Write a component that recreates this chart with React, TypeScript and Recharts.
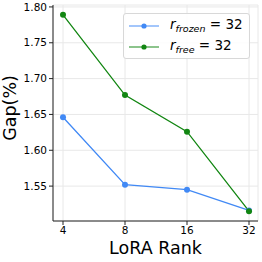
import { LineChart, Line, XAxis, YAxis, CartesianGrid } from 'recharts';

const ranks = ['4', '8', '16', '32'];
const frozenGap = [1.646, 1.552, 1.545, 1.516];
const freeGap = [1.789, 1.677, 1.626, 1.515];
const yTicks = [1.55, 1.6, 1.65, 1.7, 1.75, 1.8];

const BLUE = '#4189f5';
const GREEN = '#128612';
const FONT = '"DejaVu Sans", sans-serif';

const data = ranks.map((r, i) => ({ rank: r, frozen: frozenGap[i], free: freeGap[i] }));

function LegendBox() {
  const row = (color: string, sub: string, top: number) => (
    <div style={{ position: 'absolute', left: 0, top, height: 20, display: 'flex', alignItems: 'center' }}>
      <svg width={40} height={20} style={{ display: 'block' }}>
        <line x1={5} y1={10} x2={35} y2={10} stroke={color} strokeOpacity={0.75} strokeWidth={1.3} />
        <circle cx={20} cy={10} r={2.6} fill={color} />
      </svg>
      <span style={{ marginLeft: 6, fontSize: 13.5, fontFamily: FONT, color: '#000', whiteSpace: 'nowrap', lineHeight: '20px' }}>
        <i>r</i>
        <sub style={{ fontSize: 9.5, fontStyle: 'italic', verticalAlign: -3 }}>{sub}</sub>
        <span> = 32</span>
      </span>
    </div>
  );
  return (
    <div
      style={{
        position: 'absolute',
        left: 123,
        top: 13,
        width: 127,
        height: 46,
        border: '1px solid #d8d8d8',
        borderRadius: 3,
        background: 'rgba(255,255,255,0.85)',
        boxSizing: 'border-box',
      }}
    >
      {row(BLUE, 'frozen', 2)}
      {row(GREEN, 'free', 23)}
    </div>
  );
}

export default function App() {
  return (
    <div style={{ position: 'fixed', left: 0, top: 0, width: 262, height: 262, background: '#fff' }}>
      <LineChart width={262} height={262} data={data} margin={{ top: 5, right: 4, bottom: 0, left: 0 }}>
        <CartesianGrid stroke="#e8e8e8" strokeWidth={1} vertical horizontal />
        <XAxis
          dataKey="rank"
          type="category"
          padding={{ left: 10, right: 9 }}
          height={41}
          tickSize={4}
          tickMargin={2}
          tick={{ fill: '#000', fontSize: 10.5, fontFamily: FONT }}
          axisLine={{ stroke: '#222' }}
          tickLine={{ stroke: '#222' }}
          label={{
            content: () => (
              <text x={155.5} y={254} textAnchor="middle" fontSize={17.5} fontFamily={FONT} fill="#000">
                LoRA Rank
              </text>
            ),
          }}
        />
        <XAxis
          xAxisId="top"
          dataKey="rank"
          orientation="top"
          height={0}
          tick={false}
          tickLine={false}
          axisLine={{ stroke: '#222' }}
          padding={{ left: 10, right: 9 }}
        />
        <YAxis
          type="number"
          domain={[1.5013, 1.8027]}
          ticks={yTicks}
          allowDataOverflow
          width={53}
          tickSize={4}
          tickMargin={2}
          tickFormatter={(v: number) => v.toFixed(2)}
          tick={{ fill: '#000', fontSize: 10.5, fontFamily: FONT }}
          axisLine={{ stroke: '#222' }}
          tickLine={{ stroke: '#222' }}
          label={{
            content: () => (
              <text x={16} y={108} transform="rotate(-90 16 108)" textAnchor="middle" fontSize={17.5} fontFamily={FONT} fill="#000">
                Gap(%)
              </text>
            ),
          }}
        />
        <YAxis
          yAxisId="right"
          orientation="right"
          type="number"
          domain={[1.5013, 1.8027]}
          width={0}
          tick={false}
          tickLine={false}
          axisLine={{ stroke: '#222' }}
        />
        <Line
          type="linear"
          dataKey="frozen"
          stroke={BLUE}
          strokeWidth={1.3}
          dot={{ r: 3, fill: BLUE, stroke: BLUE, strokeWidth: 0 }}
          activeDot={false}
          isAnimationActive={false}
        />
        <Line
          type="linear"
          dataKey="free"
          stroke={GREEN}
          strokeWidth={1.3}
          dot={{ r: 3, fill: GREEN, stroke: GREEN, strokeWidth: 0 }}
          activeDot={false}
          isAnimationActive={false}
        />
      </LineChart>
      <LegendBox />
    </div>
  );
}
